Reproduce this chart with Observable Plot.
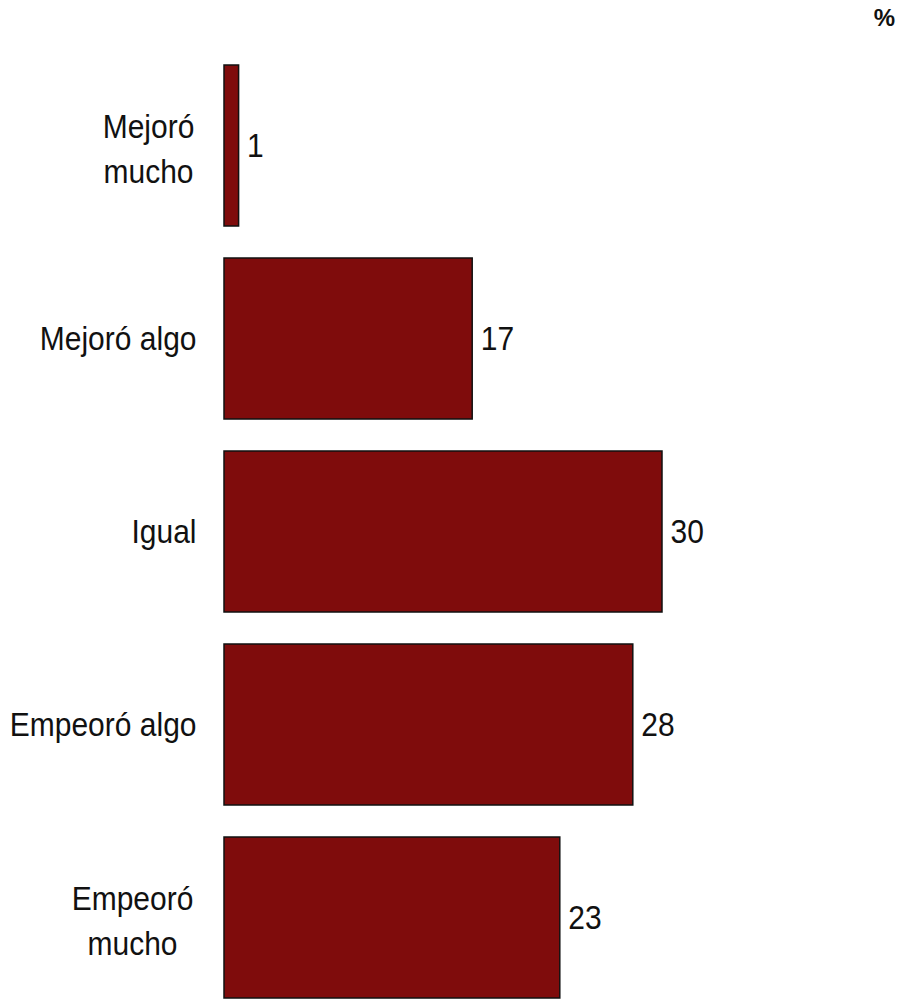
<!DOCTYPE html>
<html>
<head>
<meta charset="utf-8">
<script src="https://cdn.jsdelivr.net/npm/d3@7"></script>
<script src="https://cdn.jsdelivr.net/npm/@observablehq/plot@0.6"></script>
<style>
  html, body { margin: 0; padding: 0; background: #fff; }
  #wrap { position: relative; width: 903px; height: 1001px; }
  #pct { position: absolute; right: 8px; top: 4px; font: bold 24px "Liberation Sans", Arial, sans-serif; color: #111; }
  svg { display: block; }
</style>
</head>
<body>
<div id="wrap"><div id="pct">%</div></div>
<script>
const categories = ["Mejoró\nmucho", "Mejoró algo", "Igual", "Empeoró algo", "Empeoró\nmucho"];
const values = [1, 17, 30, 28, 23];

const data = categories.map((c, i) => ({category: c, value: values[i]}));
const font = '"Liberation Sans", Arial, sans-serif';

const chart = Plot.plot({
  width: 903,
  height: 1001,
  marginLeft: 224,
  marginRight: 95,
  marginTop: 64,
  marginBottom: 2,
  style: {fontFamily: font, background: "white"},
  x: {domain: [0, 40], axis: null},
  y: {domain: categories, axis: null, paddingInner: 0.168, paddingOuter: 0},
  marks: [
    Plot.barX(data, {x: "value", y: "category", fill: "#7f0c0c", stroke: "#111", strokeWidth: 1.5}),
    Plot.text(data, {x: "value", y: "category", text: d => String(d.value), textAnchor: "start", dx: 8, fontSize: 30, fill: "#111"}),
    Plot.text(data.filter(d => !d.category.includes("\n")), {x: 0, y: "category", text: "category", textAnchor: "end", dx: -28, fontSize: 30, fill: "#111"}),
    Plot.text(data.filter((d, i) => i === 0), {x: 0, y: "category", text: "category", textAnchor: "middle", dx: -76, fontSize: 30, lineHeight: 1.35, fill: "#111"}),
    Plot.text(data.filter((d, i) => i === 4), {x: 0, y: "category", text: "category", textAnchor: "middle", dx: -92, fontSize: 30, lineHeight: 1.35, fill: "#111"})
  ]
});
// Slight vertical stretch of the narrow-looking reference lettering
chart.querySelectorAll("text").forEach(t => {
  const tr = t.getAttribute("transform");
  if (tr) t.setAttribute("transform", tr + " scale(1,1.12)");
});
document.getElementById("wrap").appendChild(chart);
</script>
</body>
</html>
